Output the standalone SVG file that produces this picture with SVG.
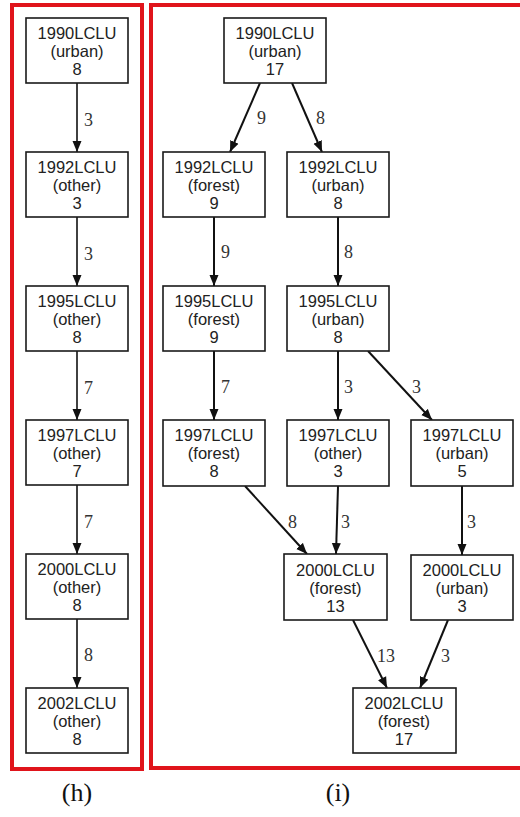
<svg xmlns="http://www.w3.org/2000/svg" width="520" height="817" viewBox="0 0 520 817">
  <style>
    .frame { fill: none; stroke: #e0141b; stroke-width: 4; }
    .box { fill: #ffffff; stroke: #1a1a1a; stroke-width: 1.6; }
    .nt { font-family: "Liberation Sans", Arial, sans-serif; font-size: 16.5px; fill: #222222; text-anchor: middle; }
    .el { font-family: "Liberation Serif", "Times New Roman", serif; font-size: 18px; fill: #333333; }
    .cap { font-family: "Liberation Serif", "Times New Roman", serif; font-size: 26px; fill: #111111; text-anchor: middle; }
    .e { fill: none; stroke: #111111; stroke-width: 1.6; marker-end: url(#ah); }
    .ew { fill: none; stroke: #111111; stroke-width: 2; marker-end: url(#ah); }
  </style>
  <defs>
    <marker id="ah" markerUnits="userSpaceOnUse" markerWidth="10" markerHeight="10" refX="11" refY="5" orient="auto">
      <path d="M0,0.5 L11,5 L0,9.5 z" fill="#111111"/>
    </marker>
  </defs>
  <rect width="520" height="817" fill="#ffffff"/>

  <!-- panel frames -->
  <rect class="frame" x="12" y="5" width="130" height="764"/>
  <rect class="frame" x="151" y="5" width="375" height="763"/>

  <!-- connectors -->
  <g id="edges">
    <!-- panel (h) -->
    <line class="e" x1="77" y1="83" x2="77" y2="152"/>
    <text class="el" x="84" y="126">3</text>
    <line class="e" x1="77" y1="217" x2="77" y2="286"/>
    <text class="el" x="84" y="260">3</text>
    <line class="e" x1="77" y1="351" x2="77" y2="420"/>
    <text class="el" x="84" y="394">7</text>
    <line class="e" x1="77" y1="485" x2="77" y2="554"/>
    <text class="el" x="84" y="528">7</text>
    <line class="e" x1="77" y1="619" x2="77" y2="688"/>
    <text class="el" x="84" y="661">8</text>

    <!-- panel (i) -->
    <line class="ew" x1="260" y1="83" x2="230" y2="152"/>
    <text class="el" x="257" y="124">9</text>
    <line class="ew" x1="292" y1="83" x2="322" y2="152"/>
    <text class="el" x="316" y="124">8</text>
    <line class="ew" x1="214" y1="217" x2="214" y2="286"/>
    <text class="el" x="221" y="258">9</text>
    <line class="ew" x1="338" y1="217" x2="338" y2="286"/>
    <text class="el" x="344" y="258">8</text>
    <line class="ew" x1="214" y1="351" x2="214" y2="420"/>
    <text class="el" x="221" y="393">7</text>
    <line class="ew" x1="338" y1="351" x2="338" y2="420"/>
    <text class="el" x="344" y="393">3</text>
    <line class="ew" x1="368" y1="351" x2="432" y2="420"/>
    <text class="el" x="412" y="393">3</text>
    <line class="ew" x1="245" y1="486" x2="307" y2="554"/>
    <text class="el" x="288" y="528">8</text>
    <line class="ew" x1="338" y1="486" x2="336" y2="554"/>
    <text class="el" x="341" y="528">3</text>
    <line class="ew" x1="462" y1="486" x2="462" y2="555"/>
    <text class="el" x="467" y="528">3</text>
    <line class="ew" x1="353" y1="620" x2="387" y2="688"/>
    <text class="el" x="377" y="662">13</text>
    <line class="ew" x1="448" y1="620" x2="420" y2="688"/>
    <text class="el" x="441" y="662">3</text>
  </g>

  <!-- panel (h) nodes -->
  <g id="h1990">
    <rect class="box" x="26" y="18" width="102" height="65"/>
    <text class="nt" x="77" y="39">1990LCLU</text>
    <text class="nt" x="77" y="57">(urban)</text>
    <text class="nt" x="77" y="75">8</text>
  </g>
  <g id="h1992">
    <rect class="box" x="26" y="152" width="102" height="65"/>
    <text class="nt" x="77" y="173">1992LCLU</text>
    <text class="nt" x="77" y="191">(other)</text>
    <text class="nt" x="77" y="209">3</text>
  </g>
  <g id="h1995">
    <rect class="box" x="26" y="286" width="102" height="65"/>
    <text class="nt" x="77" y="307">1995LCLU</text>
    <text class="nt" x="77" y="325">(other)</text>
    <text class="nt" x="77" y="343">8</text>
  </g>
  <g id="h1997">
    <rect class="box" x="26" y="420" width="102" height="65"/>
    <text class="nt" x="77" y="441">1997LCLU</text>
    <text class="nt" x="77" y="459">(other)</text>
    <text class="nt" x="77" y="477">7</text>
  </g>
  <g id="h2000">
    <rect class="box" x="26" y="554" width="102" height="65"/>
    <text class="nt" x="77" y="575">2000LCLU</text>
    <text class="nt" x="77" y="593">(other)</text>
    <text class="nt" x="77" y="611">8</text>
  </g>
  <g id="h2002">
    <rect class="box" x="26" y="688" width="102" height="65"/>
    <text class="nt" x="77" y="709">2002LCLU</text>
    <text class="nt" x="77" y="727">(other)</text>
    <text class="nt" x="77" y="745">8</text>
  </g>

  <!-- panel (i) nodes -->
  <g id="i1990u">
    <rect class="box" x="224" y="18" width="102" height="65"/>
    <text class="nt" x="275" y="39">1990LCLU</text>
    <text class="nt" x="275" y="57">(urban)</text>
    <text class="nt" x="275" y="75">17</text>
  </g>
  <g id="i1992f">
    <rect class="box" x="163" y="152" width="102" height="65"/>
    <text class="nt" x="214" y="173">1992LCLU</text>
    <text class="nt" x="214" y="191">(forest)</text>
    <text class="nt" x="214" y="209">9</text>
  </g>
  <g id="i1992u">
    <rect class="box" x="287" y="152" width="102" height="65"/>
    <text class="nt" x="338" y="173">1992LCLU</text>
    <text class="nt" x="338" y="191">(urban)</text>
    <text class="nt" x="338" y="209">8</text>
  </g>
  <g id="i1995f">
    <rect class="box" x="163" y="286" width="102" height="65"/>
    <text class="nt" x="214" y="307">1995LCLU</text>
    <text class="nt" x="214" y="325">(forest)</text>
    <text class="nt" x="214" y="343">9</text>
  </g>
  <g id="i1995u">
    <rect class="box" x="287" y="286" width="102" height="65"/>
    <text class="nt" x="338" y="307">1995LCLU</text>
    <text class="nt" x="338" y="325">(urban)</text>
    <text class="nt" x="338" y="343">8</text>
  </g>
  <g id="i1997f">
    <rect class="box" x="163" y="420" width="102" height="66"/>
    <text class="nt" x="214" y="441">1997LCLU</text>
    <text class="nt" x="214" y="459">(forest)</text>
    <text class="nt" x="214" y="477">8</text>
  </g>
  <g id="i1997o">
    <rect class="box" x="287" y="420" width="102" height="66"/>
    <text class="nt" x="338" y="441">1997LCLU</text>
    <text class="nt" x="338" y="459">(other)</text>
    <text class="nt" x="338" y="477">3</text>
  </g>
  <g id="i1997u">
    <rect class="box" x="411" y="420" width="102" height="66"/>
    <text class="nt" x="462" y="441">1997LCLU</text>
    <text class="nt" x="462" y="459">(urban)</text>
    <text class="nt" x="462" y="477">5</text>
  </g>
  <g id="i2000f">
    <rect class="box" x="284" y="554" width="103" height="66"/>
    <text class="nt" x="335.5" y="576">2000LCLU</text>
    <text class="nt" x="335.5" y="594">(forest)</text>
    <text class="nt" x="335.5" y="612">13</text>
  </g>
  <g id="i2000u">
    <rect class="box" x="411" y="555" width="102" height="65"/>
    <text class="nt" x="462" y="576">2000LCLU</text>
    <text class="nt" x="462" y="594">(urban)</text>
    <text class="nt" x="462" y="612">3</text>
  </g>
  <g id="i2002f">
    <rect class="box" x="353" y="688" width="103" height="65"/>
    <text class="nt" x="404" y="709">2002LCLU</text>
    <text class="nt" x="404" y="727">(forest)</text>
    <text class="nt" x="404" y="745">17</text>
  </g>

  <!-- panel captions -->
  <text class="cap" x="77" y="801">(h)</text>
  <text class="cap" x="338" y="801">(i)</text>
</svg>
